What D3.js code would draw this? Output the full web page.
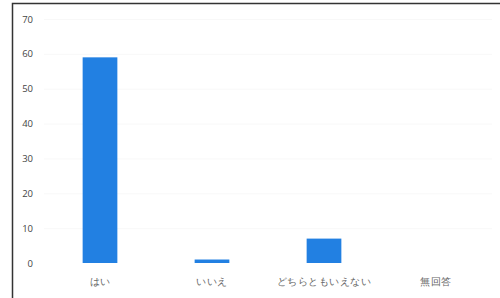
<!DOCTYPE html>
<html>
<head>
<meta charset="utf-8">
<script src="https://cdn.jsdelivr.net/npm/d3@7"></script>
<style>
  body { margin: 0; background: #fff; }
  svg { display: block; }
  .tick text { font-family: "Open Sans", "Noto Sans", sans-serif; }
</style>
</head>
<body>
<div id="chart"></div>
<script>
const categories = ["はい", "いいえ", "どちらともいえない", "無回答"]
const counts = [59, 1, 7, 0]
const yTicks = [0, 10, 20, 30, 40, 50, 60, 70]

let width = 500
let height = 298

let svg = d3.select('#chart').append('svg')
  .attr('width', width)
  .attr('height', height)

// frame (cut off at the right and bottom in the scan)
svg.append('rect')
  .attr('x', 12.5).attr('y', 3.5)
  .attr('width', 520).attr('height', 320)
  .attr('fill', 'none')
  .attr('stroke', '#333')
  .attr('stroke-width', 1.5)

let x = d3.scaleBand()
  .domain(categories)
  .range([44, 492])
  .paddingInner(0.69)
  .paddingOuter(0.345)

let y = d3.scaleLinear()
  .domain([0, 70])
  .range([263, 19])

// faint gridlines
svg.append('g')
  .selectAll('line')
  .data(yTicks.slice(1))
  .enter().append('line')
    .attr('x1', 44).attr('x2', 492)
    .attr('y1', d => y(d) + 0.5).attr('y2', d => y(d) + 0.5)
    .attr('stroke', '#f8f8f8')

// y axis labels
let yAxis = svg.append('g')
  .attr('transform', 'translate(33,0)')
  .call(d3.axisLeft(y).tickValues(yTicks).tickSize(0).tickPadding(0))
yAxis.select('.domain').remove()
yAxis.selectAll('text')
  .attr('font-size', 9.5)
  .attr('fill', '#444')

svg.append('g')
  .selectAll('rect')
  .data(counts)
  .enter().append('rect')
    .attr('x', (d, i) => x(categories[i]))
    .attr('y', d => y(d))
    .attr('width', x.bandwidth())
    .attr('height', d => y(0) - y(d))
    .attr('fill', '#2280e2')

// category labels
let xAxis = svg.append('g')
  .attr('transform', 'translate(0,263)')
  .call(d3.axisBottom(x).tickSize(0).tickPadding(15))
xAxis.select('.domain').remove()
xAxis.selectAll('text')
  .attr('font-family', '"Noto Sans CJK JP", sans-serif')
  .attr('font-size', 10)
  .attr('letter-spacing', 0.5)
  .attr('fill', '#666')
</script>
</body>
</html>
